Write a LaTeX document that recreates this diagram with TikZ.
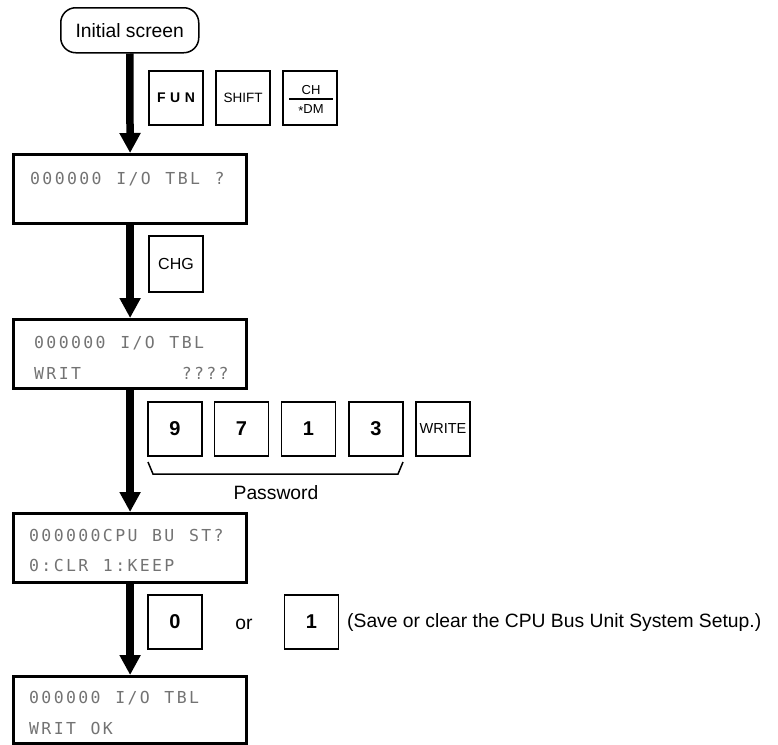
\documentclass[tikz,border=0pt]{standalone}
\usepackage{fontspec}
\setmainfont{Liberation Sans}
\newfontfamily\lcdfont{DejaVu Sans Mono}
\usetikzlibrary{arrows.meta}
\newcommand\lcdloop[1]{\ifx#1\relax\else\makebox[12.3pt][l]{#1}\expandafter\lcdloop\fi}
\newcommand\lcdtxt[1]{\lcdloop#1\relax}
\tikzset{
  lcdbox/.style={draw, line width=3.2pt, minimum width=233pt, minimum height=69pt, anchor=north west, inner sep=0pt},
  lcdline/.style={anchor=base west, inner sep=0pt, text=black!55, font=\lcdfont\fontsize{16.5}{16.5}\selectfont},
  keybox/.style={draw, line width=1.8pt, minimum width=54pt, minimum height=54pt, inner sep=0pt},
  flow/.style={line width=7.5pt, -{Triangle[width=20pt,length=20pt]}},
  lbl/.style={inner sep=0pt, font=\fontsize{19.3}{19.3}\selectfont},
  digit/.style={keybox, font=\bfseries\fontsize{20}{20}\selectfont},
}
\begin{document}
\begin{tikzpicture}[x=1pt,y=-1pt]
\useasboundingbox (0,0) rectangle (778,744);

% start
\node[draw, line width=1.5pt, rounded corners=15pt, minimum width=138pt, minimum height=45pt, anchor=north west, lbl, inner sep=0pt] (init) at (60,7) {Initial screen};

% LCD boxes
\node[lcdbox] (b1) at (12,153) {};
\node[lcdbox] (b2) at (12,318) {};
\node[lcdbox] (b3) at (12,512) {};
\node[lcdbox, minimum height=67pt] (b4) at (12,675) {};

\node[lcdline] (t1a) at (30,184) {\lcdtxt{000000~I/O~TBL~?}};
\node[lcdline] (t2a) at (34,348) {\lcdtxt{000000~I/O~TBL}};
\node[lcdline] (t2b) at (34,379) {\lcdtxt{WRIT~~~~~~~~????}};
\node[lcdline] (t3a) at (29,541) {\lcdtxt{000000CPU~BU~ST?}};
\node[lcdline] (t3b) at (29,571) {\lcdtxt{0:CLR~1:KEEP}};
\node[lcdline] (t4a) at (29,703) {\lcdtxt{000000~I/O~TBL}};
\node[lcdline] (t4b) at (29,734) {\lcdtxt{WRIT~OK}};

% flow arrows
\draw[flow] (init.south) -- (b1.north);
\draw[flow] (b1.south) -- (b2.north);
\draw[flow] (b2.south) -- (b3.north);
\draw[flow] (b3.south) -- (b4.north);

% keys step 1
\node[keybox, font=\bfseries\fontsize{14}{14}\selectfont] (kfun) at (176,98) {F\hspace{4.5pt}U\hspace{4.5pt}N};
\node[keybox, font=\fontsize{13.5}{13.5}\selectfont] (kshift) at (243,98) {SHIFT};
\node[keybox] (kchdm) at (310,98) {};
\draw[line width=1.8pt] (289,99) -- (333,99);
\node[inner sep=0pt, font=\fontsize{13}{13}\selectfont] (kch) at (311,90) {CH};
\node[inner sep=0pt, font=\fontsize{13}{13}\selectfont] (kdm) at (311,110) {\raisebox{-2.5pt}{*}DM};

% key step 2
\node[keybox, minimum height=56pt, font=\fontsize{16}{16}\selectfont] (kchg) at (176,264) {CHG};

% keys step 3
\node[digit] (k9) at (175,429) {9};
\node[digit] (k7) at (241.5,429) {7};
\node[digit] (k1) at (308.5,429) {1};
\node[digit] (k3) at (376,429) {3};
\node[keybox, font=\fontsize{14.5}{14.5}\selectfont] (kwrite) at (443,429) {WRITE};
\coordinate (brA) at (148,462);
\coordinate (brB) at (153,474);
\coordinate (brC) at (398,474);
\coordinate (brD) at (403,462);
\draw[line width=1.5pt] (brA) -- (brB) -- (brC) -- (brD);
\node[lbl] (pw) at (276,493) {Password};

% keys step 4
\node[digit] (k0) at (175,622) {0};
\node[lbl] (or) at (244,624) {or};
\node[digit] (k1b) at (311.5,622) {1};
\node[lbl, anchor=west] (note) at (347,622) {(Save or clear the CPU Bus Unit System Setup.)};
\end{tikzpicture}
\end{document}
